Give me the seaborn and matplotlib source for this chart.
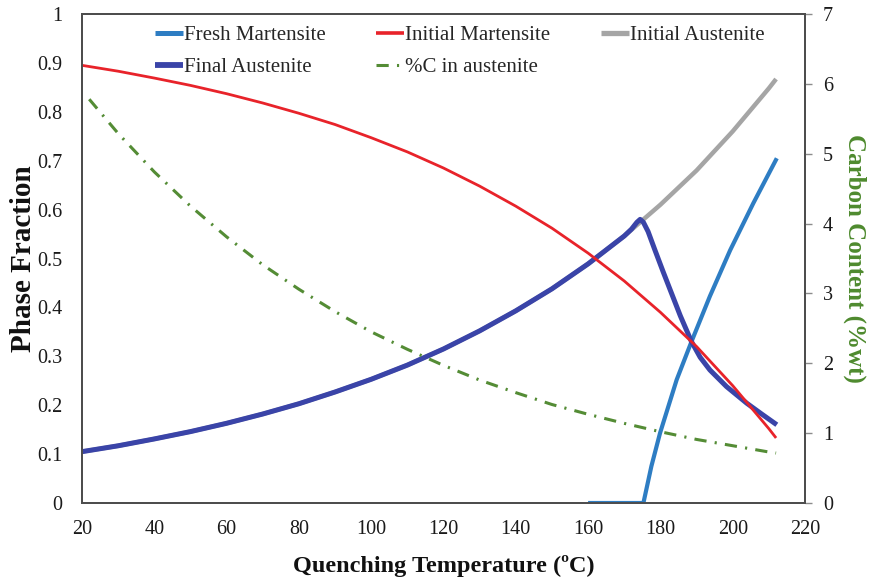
import matplotlib
matplotlib.use("Agg")
import matplotlib.pyplot as plt
from matplotlib.lines import Line2D
import pandas as pd
import seaborn as sns

# Quenching temperatures (ºC) and phase fractions
temp = [20, 30, 40, 50, 60, 70, 80, 90, 100, 110, 120, 130, 140, 150,
        160, 170, 180, 190, 200, 210, 212]
initial_martensite = [0.895, 0.883, 0.869, 0.854, 0.837, 0.818, 0.797, 0.774,
                      0.747, 0.718, 0.685, 0.648, 0.607, 0.562, 0.511, 0.454,
                      0.390, 0.320, 0.240, 0.152, 0.133]
initial_austenite = [0.105, 0.117, 0.131, 0.146, 0.163, 0.182, 0.203, 0.227,
                     0.253, 0.282, 0.315, 0.352, 0.393, 0.438, 0.489, 0.546,
                     0.610, 0.680, 0.760, 0.848, 0.867]

temp_final = [20, 30, 40, 50, 60, 70, 80, 90, 100, 110, 120, 130, 140, 150,
              160, 170, 172, 173.5, 174.4, 175.3, 176.6, 178.5, 180.7, 182.7,
              185.5, 188.6, 191, 193.7, 198.3, 203.9, 208, 212.2]
final_austenite = [0.105, 0.117, 0.131, 0.146, 0.163, 0.182, 0.203, 0.227,
                   0.253, 0.282, 0.315, 0.352, 0.393, 0.438, 0.489, 0.546,
                   0.560, 0.574, 0.580, 0.574, 0.555, 0.517, 0.474, 0.436,
                   0.383, 0.330, 0.298, 0.272, 0.238, 0.204, 0.182, 0.160]

temp_fresh = [160, 170, 175.3, 177.5, 179.9, 184.5, 188.6, 193.7, 199.3,
              205.7, 212.2]
fresh_martensite = [0.0, 0.0, 0.0, 0.075, 0.143, 0.252, 0.330, 0.423, 0.517,
                    0.613, 0.705]

temp_carbon = [22, 30, 40, 50, 60, 70, 80, 90, 100, 110, 120, 130, 140, 150,
               160, 170, 180, 190, 200, 210, 212]
carbon = [5.78, 5.29, 4.74, 4.25, 3.81, 3.41, 3.06, 2.74, 2.45, 2.20, 1.97,
          1.76, 1.58, 1.41, 1.27, 1.14, 1.02, 0.91, 0.82, 0.73, 0.715]

colors = {"Fresh Martensite": "#2E7DC3", "Initial Martensite": "#E8232A",
          "Initial Austenite": "#A5A5A5", "Final Austenite": "#3A44A8",
          "%C in austenite": "#548C35"}
widths = {"Fresh Martensite": 3.0, "Initial Martensite": 2.0,
          "Initial Austenite": 3.2, "Final Austenite": 3.6,
          "%C in austenite": 2.2}
carbon_style = (0, (4, 2.7, 0.7, 2.7))

sns.set_style("white")
plt.rcParams["font.family"] = ["Liberation Serif", "DejaVu Serif"]

fig = plt.figure(figsize=(8.77, 5.80), dpi=100)
ax = fig.add_axes([82 / 877, 1 - 503 / 580, 723 / 877, 489 / 580])
ax2 = ax.twinx()

series = {
    "Initial Austenite": (temp, initial_austenite),
    "Fresh Martensite": (temp_fresh, fresh_martensite),
    "Final Austenite": (temp_final, final_austenite),
    "Initial Martensite": (temp, initial_martensite),
}
handles = {}
for name, (xs, ys) in series.items():
    df = pd.DataFrame({"T": xs, "v": ys})
    sns.lineplot(data=df, x="T", y="v", ax=ax, color=colors[name],
                 linewidth=widths[name], estimator=None, legend=False,
                 solid_capstyle="butt")
    handles[name] = Line2D([], [], color=colors[name],
                           linewidth=widths[name] + 0.6, solid_capstyle="butt")

dfc = pd.DataFrame({"T": temp_carbon, "C": carbon})
sns.lineplot(data=dfc, x="T", y="C", ax=ax2, color=colors["%C in austenite"],
             linewidth=widths["%C in austenite"], estimator=None, legend=False)
ax2.lines[-1].set_linestyle(carbon_style)
handles["%C in austenite"] = Line2D([], [], color=colors["%C in austenite"],
                                    linewidth=widths["%C in austenite"],
                                    linestyle=carbon_style)

ax.set_xlim(20, 220)
ax.set_ylim(0, 1)
ax2.set_ylim(0, 7)
ax.set_xticks(range(20, 221, 20))
ax.set_yticks([i / 10 for i in range(11)])
ax.set_yticklabels(["0"] + [f"{i / 10:.1f}" for i in range(1, 10)] + ["1"])
ax2.set_yticks(range(0, 8))

ax.tick_params(axis="both", labelsize=14.5, colors="#1a1a1a")
ax.tick_params(axis="y", length=0, pad=14)
ax.tick_params(axis="x", length=0, pad=12)
ax2.tick_params(axis="y", labelsize=14.5, labelcolor="#1a1a1a", color="#8c8c8c",
                length=5, width=1, pad=8, direction="out")

for a in (ax, ax2):
    for s in a.spines.values():
        s.set_color("#4d4d4d")
        s.set_linewidth(1.3)

ax.set_xlabel("Quenching Temperature (ºC)", fontsize=17.5, fontweight="bold",
              color="#111111", labelpad=12)
ax.set_ylabel("Phase Fraction", fontsize=21, fontweight="bold",
              color="#111111", labelpad=0)
ax2.set_ylabel("Carbon Content (%wt)", fontsize=18, fontweight="bold",
               color="#4E8A2E", rotation=270, labelpad=24)

order = ["Fresh Martensite", "Final Austenite", "Initial Martensite",
         "%C in austenite", "Initial Austenite"]
leg = ax.legend([handles[n] for n in order], order, ncol=3, frameon=False,
                loc="upper left", bbox_to_anchor=(147 / 877, 1 - 17 / 580),
                bbox_transform=fig.transFigure, fontsize=15,
                handlelength=1.35, handletextpad=0.05, columnspacing=2.4,
                labelspacing=0.6, borderaxespad=0)
leg.set_zorder(5)

fig.savefig("out.png", dpi=100)
